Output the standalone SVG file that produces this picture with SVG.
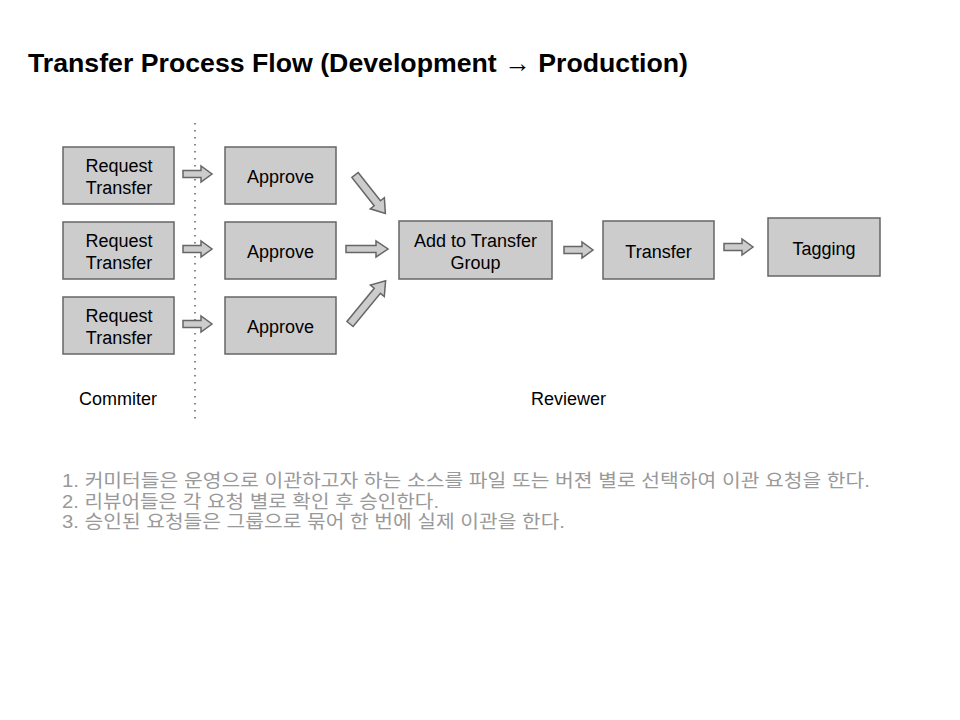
<svg xmlns="http://www.w3.org/2000/svg" width="960" height="720" viewBox="0 0 960 720">
<defs>
<style>
.box{fill:#cccccc;stroke:#666666;stroke-width:1.5}
.arr{fill:#cccccc;stroke:#666666;stroke-width:1.5;stroke-linejoin:miter}
.t{font-family:"Liberation Sans",Arial,sans-serif;font-size:18px;fill:#000;text-anchor:middle}
.lab{font-family:"Liberation Sans",Arial,sans-serif;font-size:18px;fill:#000}
.title{font-family:"Liberation Sans",Arial,"DejaVu Sans",sans-serif;font-size:26.5px;font-weight:bold;fill:#000}
.note{font-family:"Liberation Sans","Noto Sans CJK KR",sans-serif;font-size:18px;fill:#999999}
</style>
<path id="sa" d="M0,-3.5 H18 V-8 L29,0 L18,8 V3.5 H0 Z"/>
</defs>
<rect width="960" height="720" fill="#ffffff"/>
<text class="title" x="28" y="72" textLength="660" lengthAdjust="spacingAndGlyphs">Transfer Process Flow (Development → Production)</text>
<line x1="195" y1="123" x2="195" y2="421" stroke="#888888" stroke-width="2" stroke-dasharray="1.5 5.5"/>
<g id="connectors">
<use href="#sa" class="arr" transform="translate(183,174)"/>
<use href="#sa" class="arr" transform="translate(183,249)"/>
<use href="#sa" class="arr" transform="translate(183,324)"/>
<path class="arr" d="M0,-3.5 H30 V-8 L42,0 L30,8 V3.5 H0 Z" transform="translate(346,249)"/>
<path class="arr" d="M0,-4 H36 V-9 L49,0 L36,9 V4 H0 Z" transform="translate(355,175) rotate(51.7)"/>
<path class="arr" d="M0,-4 H43 V-9 L56,0 L43,9 V4 H0 Z" transform="translate(350,324) rotate(-50.5)"/>
<use href="#sa" class="arr" transform="translate(564,250)"/>
<use href="#sa" class="arr" transform="translate(724,247)"/>
</g>
<g id="req1"><rect class="box" x="63" y="147" width="111" height="57"/><text class="t" x="119" y="172">Request</text><text class="t" x="119" y="194">Transfer</text></g>
<g id="req2"><rect class="box" x="63" y="222" width="111" height="57"/><text class="t" x="119" y="247">Request</text><text class="t" x="119" y="269">Transfer</text></g>
<g id="req3"><rect class="box" x="63" y="297" width="111" height="57"/><text class="t" x="119" y="322">Request</text><text class="t" x="119" y="344">Transfer</text></g>
<g id="app1"><rect class="box" x="225" y="147" width="111" height="57"/><text class="t" x="280.5" y="183">Approve</text></g>
<g id="app2"><rect class="box" x="225" y="222" width="111" height="57"/><text class="t" x="280.5" y="258">Approve</text></g>
<g id="app3"><rect class="box" x="225" y="297" width="111" height="57"/><text class="t" x="280.5" y="333">Approve</text></g>
<g id="group"><rect class="box" x="399" y="221" width="153" height="58"/><text class="t" x="475.5" y="247">Add to Transfer</text><text class="t" x="475.5" y="269">Group</text></g>
<g id="transfer"><rect class="box" x="603" y="221" width="111" height="58"/><text class="t" x="658.5" y="258">Transfer</text></g>
<g id="tagging"><rect class="box" x="768" y="218" width="112" height="58"/><text class="t" x="824" y="255">Tagging</text></g>
<text class="lab" x="79" y="405">Commiter</text>
<text class="lab" x="531" y="405">Reviewer</text>
<text class="note" x="62" y="487" textLength="808" lengthAdjust="spacingAndGlyphs">1. 커미터들은 운영으로 이관하고자 하는 소스를 파일 또는 버젼 별로 선택하여 이관 요청을 한다.</text>
<text class="note" x="62" y="507.5" textLength="377" lengthAdjust="spacingAndGlyphs">2. 리뷰어들은 각 요청 별로 확인 후 승인한다.</text>
<text class="note" x="62" y="528" textLength="503" lengthAdjust="spacingAndGlyphs">3. 승인된 요청들은 그룹으로 묶어 한 번에 실제 이관을 한다.</text>
</svg>
